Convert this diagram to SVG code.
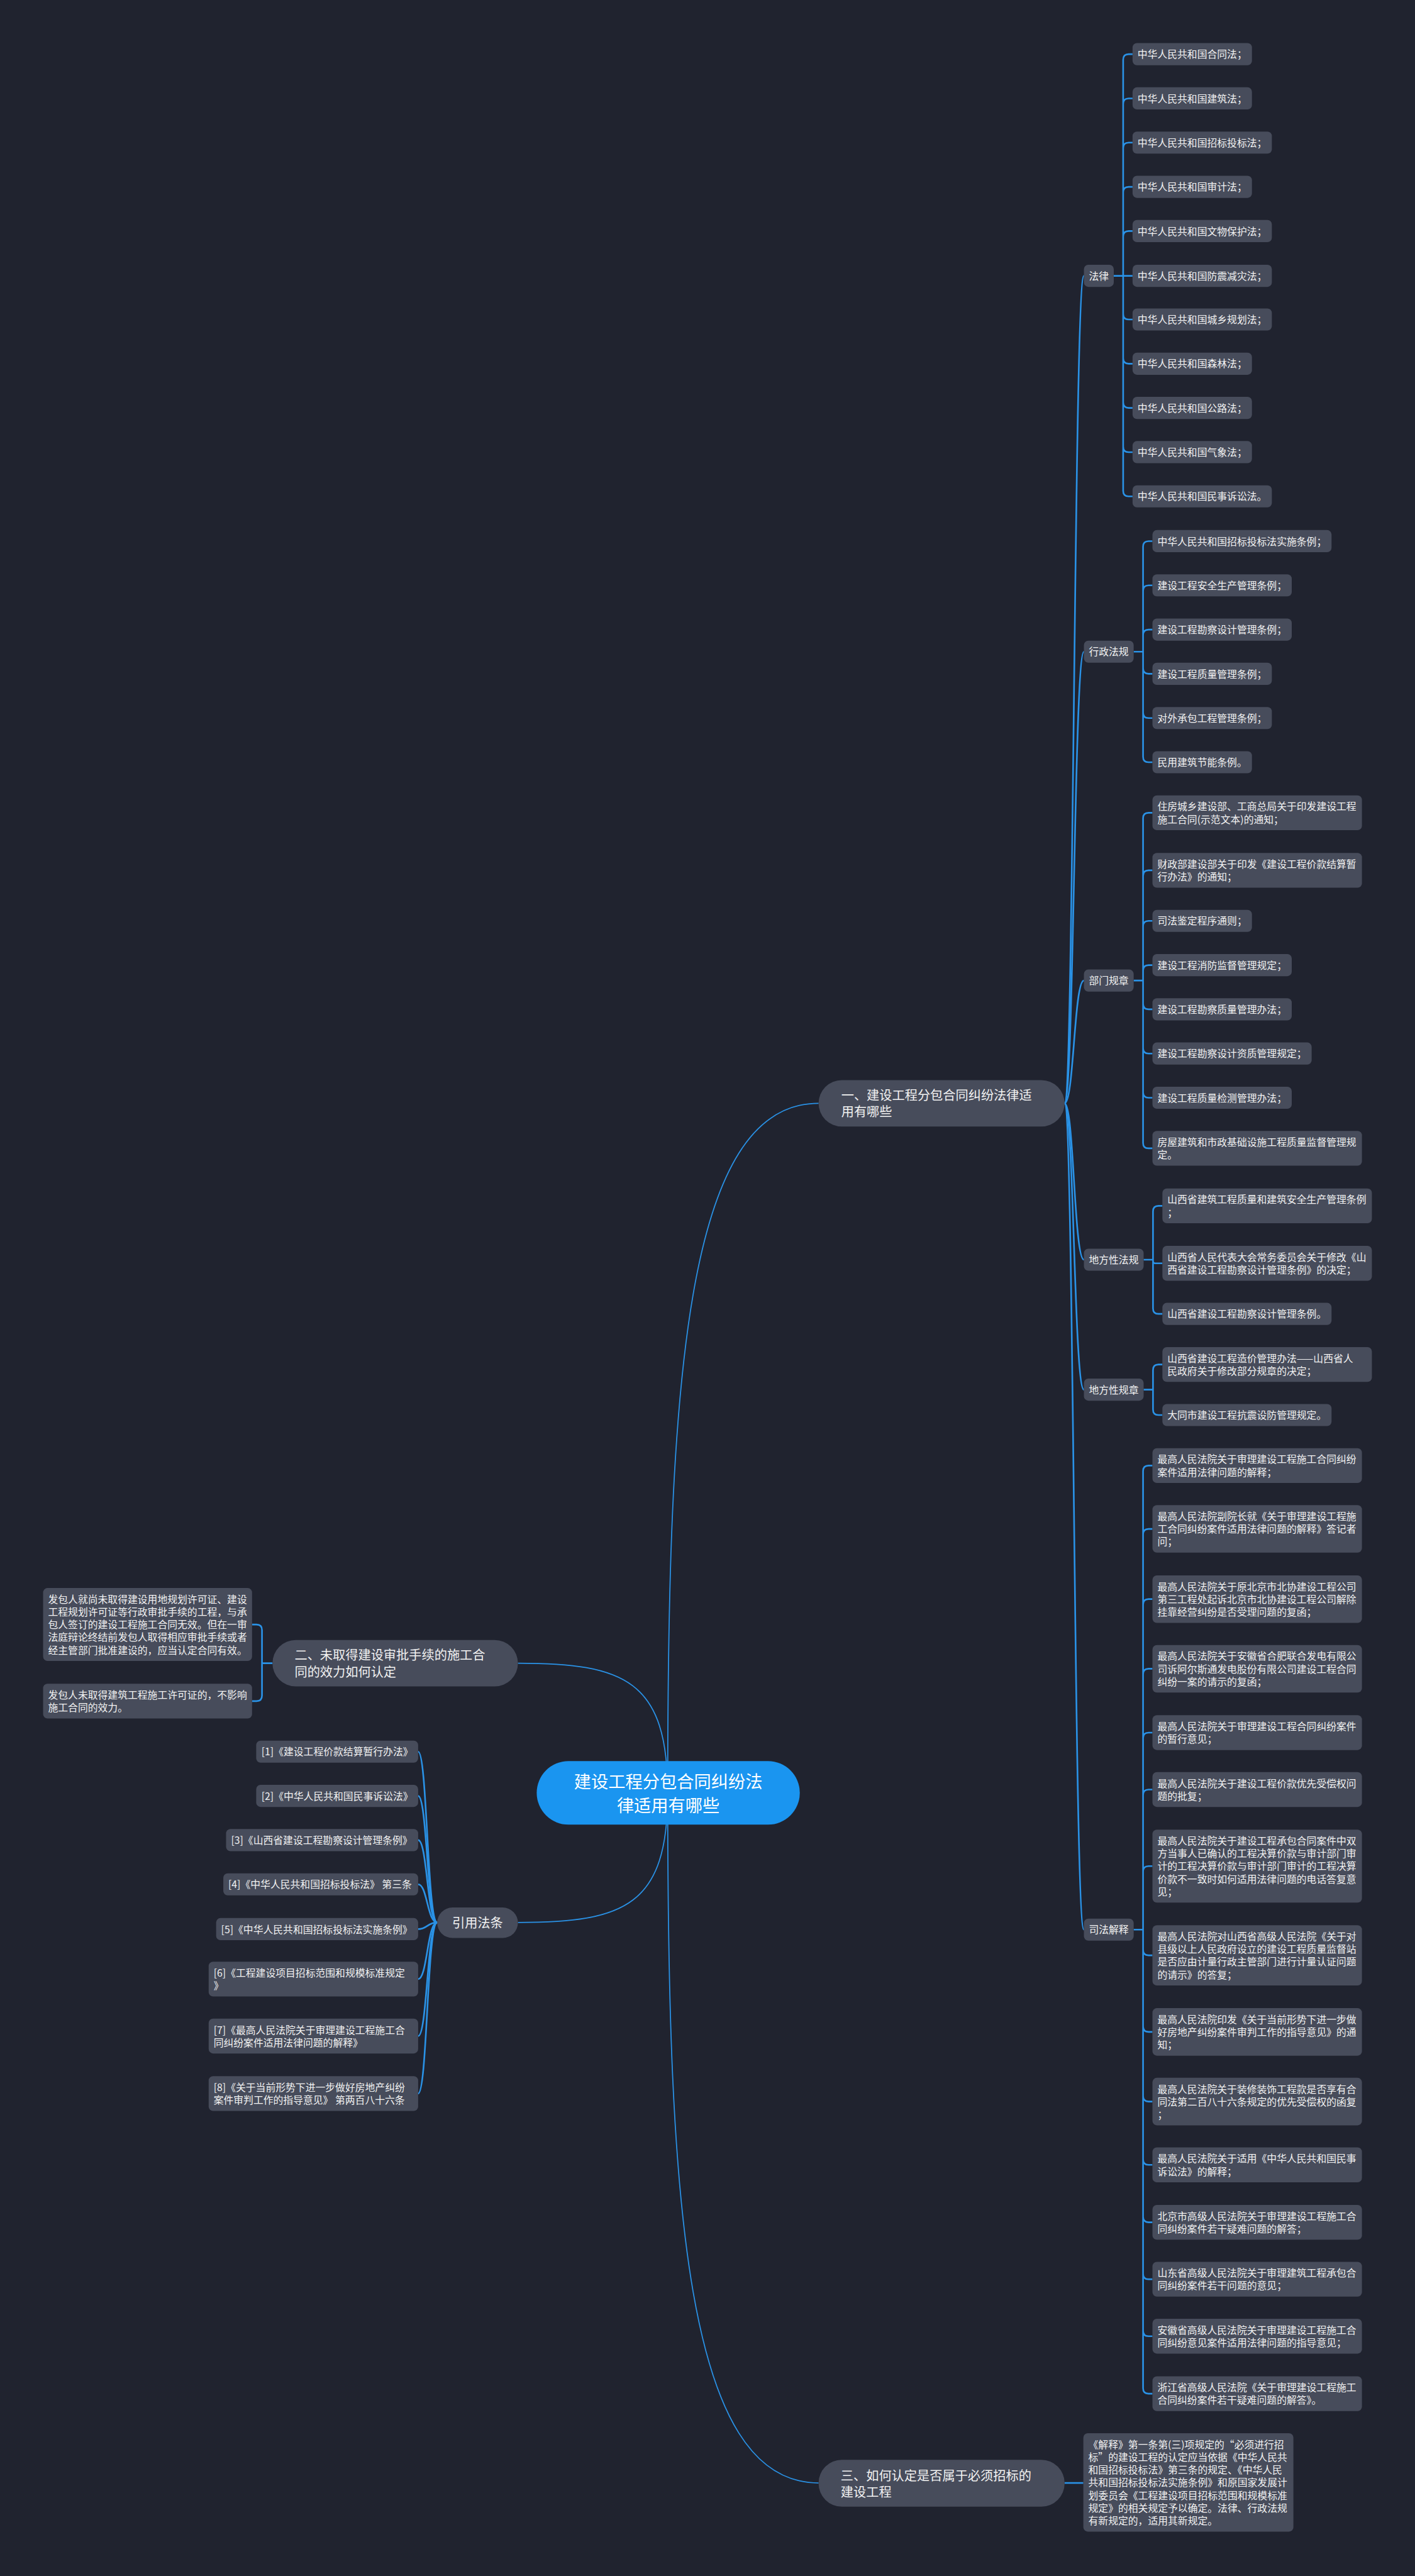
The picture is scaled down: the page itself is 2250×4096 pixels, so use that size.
<svg xmlns="http://www.w3.org/2000/svg" width="2250" height="4096" viewBox="0 0 2250 4096">
<style>
.n{fill:#474c5b}
.t{fill:#f2f2f2;font-family:"Noto Sans CJK SC","Noto Sans",sans-serif;font-size:18px}
.t1{fill:#f2f2f2;font-family:"Noto Sans CJK SC","Noto Sans",sans-serif;font-size:23px}
.tr{fill:#ffffff;font-family:"Noto Sans CJK SC","Noto Sans",sans-serif;font-size:31px;text-anchor:middle}
.c{fill:none;stroke:#2a92e6;stroke-width:3}
.cr{fill:none;stroke:#2a92e6;stroke-width:2}
</style>
<rect x="0" y="0" width="2250" height="4096" fill="#20232f"/>
<g transform="scale(0.87891)">
<g id="connectors">
<path class="cr" d="M1208 3244C1208 2500 1240 1996 1481 1996"/>
<path class="cr" d="M1208 3244C1208 3988 1240 4492 1481 4492"/>
<path class="cr" d="M1208 3244C1208 3040 1130 3009 937 3009"/>
<path class="cr" d="M1208 3244C1208 3448 1130 3478 937 3478"/>
<path class="c" d="M1926 1996C1943 1996 1943 499 1961 499"/>
<path class="c" d="M1926 1996C1943 1996 1943 1179 1961 1179"/>
<path class="c" d="M1926 1996C1943 1996 1943 1774 1961 1774"/>
<path class="c" d="M1926 1996C1943 1996 1943 2279 1961 2279"/>
<path class="c" d="M1926 1996C1943 1996 1943 2514 1961 2514"/>
<path class="c" d="M1926 1996C1943 1996 1943 3491 1961 3491"/>
<path class="c" d="M2015 499H2032M2032 499V108Q2032 98 2042 98H2049M2032 499V888Q2032 898 2042 898H2049M2032 188Q2032 178 2042 178H2049M2032 268Q2032 258 2042 258H2049M2032 348Q2032 338 2042 338H2049M2032 428Q2032 418 2042 418H2049M2032 499H2049M2032 568Q2032 578 2042 578H2049M2032 648Q2032 658 2042 658H2049M2032 728Q2032 738 2042 738H2049M2032 808Q2032 818 2042 818H2049"/>
<path class="c" d="M2051 1179H2068M2068 1179V989Q2068 979 2078 979H2085M2068 1179V1369Q2068 1379 2078 1379H2085M2068 1069Q2068 1059 2078 1059H2085M2068 1149Q2068 1139 2078 1139H2085M2068 1209Q2068 1219 2078 1219H2085M2068 1289Q2068 1299 2078 1299H2085"/>
<path class="c" d="M2051 1774H2068M2068 1774V1480.5Q2068 1470.5 2078 1470.5H2085M2068 1774V2067.5Q2068 2077.5 2078 2077.5H2085M2068 1584.5Q2068 1574.5 2078 1574.5H2085M2068 1676Q2068 1666 2078 1666H2085M2068 1756Q2068 1746 2078 1746H2085M2068 1816Q2068 1826 2078 1826H2085M2068 1896Q2068 1906 2078 1906H2085M2068 1976Q2068 1986 2078 1986H2085"/>
<path class="c" d="M2069 2279H2086M2086 2279V2191.5Q2086 2181.5 2096 2181.5H2103M2086 2279V2367Q2086 2377 2096 2377H2103M2086 2279V2281.5Q2086 2285.5 2090 2285.5H2103"/>
<path class="c" d="M2069 2514H2086M2086 2514V2478.5Q2086 2468.5 2096 2468.5H2103M2086 2514V2550Q2086 2560 2096 2560H2103"/>
<path class="c" d="M2051 3491H2068M2068 3491V2661.5Q2068 2651.5 2078 2651.5H2085M2068 3491V4320.5Q2068 4330.5 2078 4330.5H2085M2068 2776Q2068 2766 2078 2766H2085M2068 2903Q2068 2893 2078 2893H2085M2068 3029Q2068 3019 2078 3019H2085M2068 3144.5Q2068 3134.5 2078 3134.5H2085M2068 3247.5Q2068 3237.5 2078 3237.5H2085M2068 3386Q2068 3376 2078 3376H2085M2068 3527.5Q2068 3537.5 2078 3537.5H2085M2068 3666Q2068 3676 2078 3676H2085M2068 3792Q2068 3802 2078 3802H2085M2068 3906.5Q2068 3916.5 2078 3916.5H2085M2068 4010.5Q2068 4020.5 2078 4020.5H2085M2068 4113.5Q2068 4123.5 2078 4123.5H2085M2068 4216.5Q2068 4226.5 2078 4226.5H2085"/>
<path class="c" d="M1926 4492H1960"/>
<path class="c" d="M493 3009H474V2949Q474 2939 464 2939H456M474 3009V3067.5Q474 3077.5 464 3077.5H456"/>
<path class="c" d="M791 3478C773 3478 773 3169 756.5 3169"/>
<path class="c" d="M791 3478C773 3478 773 3249 756.5 3249"/>
<path class="c" d="M791 3478C773 3478 773 3329 756.5 3329"/>
<path class="c" d="M791 3478C773 3478 773 3409 756.5 3409"/>
<path class="c" d="M791 3478C773 3478 773 3490 756.5 3490"/>
<path class="c" d="M791 3478C773 3478 773 3580.5 756.5 3580.5"/>
<path class="c" d="M791 3478C773 3478 773 3683.5 756.5 3683.5"/>
<path class="c" d="M791 3478C773 3478 773 3787.5 756.5 3787.5"/>
</g>

<g id="root"><rect x="971" y="3186" width="476" height="115" rx="57.5" fill="#1a95f0"/><text class="tr"><tspan x="1209" y="3235">建设工程分包合同纠纷法</tspan><tspan x="1209" y="3278">律适用有哪些</tspan></text></g>

<g id="b1"><rect class="n" x="1481" y="1954" width="445" height="84" rx="42"/><text class="t1"><tspan x="1522" y="1990">一、建设工程分包合同纠纷法律适</tspan><tspan x="1522" y="2020">用有哪些</tspan></text></g>
<g id="b2"><rect class="n" x="493" y="2967" width="444" height="84" rx="42"/><text class="t1"><tspan x="533" y="3003">二、未取得建设审批手续的施工合</tspan><tspan x="533" y="3033">同的效力如何认定</tspan></text></g>
<g id="b3"><rect class="n" x="1481" y="4450" width="445" height="85" rx="42"/><text class="t1"><tspan x="1521" y="4487">三、如何认定是否属于必须招标的</tspan><tspan x="1521" y="4517">建设工程</tspan></text></g>
<g id="b4"><rect class="n" x="791" y="3451" width="146" height="55" rx="27.5"/><text class="t1" x="818" y="3487">引用法条</text></g>

<g id="law"><rect class="n" x="1961" y="479" width="54" height="40" rx="8"/><text class="t" x="1970" y="506">法律</text></g>
<g id="law1"><rect class="n" x="2049" y="78" width="216" height="40" rx="8"/><text class="t" x="2058" y="105">中华人民共和国合同法；</text></g>
<g id="law2"><rect class="n" x="2049" y="158" width="216" height="40" rx="8"/><text class="t" x="2058" y="185">中华人民共和国建筑法；</text></g>
<g id="law3"><rect class="n" x="2049" y="238" width="252" height="40" rx="8"/><text class="t" x="2058" y="265">中华人民共和国招标投标法；</text></g>
<g id="law4"><rect class="n" x="2049" y="318" width="216" height="40" rx="8"/><text class="t" x="2058" y="345">中华人民共和国审计法；</text></g>
<g id="law5"><rect class="n" x="2049" y="398" width="252" height="40" rx="8"/><text class="t" x="2058" y="425">中华人民共和国文物保护法；</text></g>
<g id="law6"><rect class="n" x="2049" y="479" width="252" height="40" rx="8"/><text class="t" x="2058" y="506">中华人民共和国防震减灾法；</text></g>
<g id="law7"><rect class="n" x="2049" y="558" width="252" height="40" rx="8"/><text class="t" x="2058" y="585">中华人民共和国城乡规划法；</text></g>
<g id="law8"><rect class="n" x="2049" y="638" width="216" height="40" rx="8"/><text class="t" x="2058" y="665">中华人民共和国森林法；</text></g>
<g id="law9"><rect class="n" x="2049" y="718" width="216" height="40" rx="8"/><text class="t" x="2058" y="745">中华人民共和国公路法；</text></g>
<g id="law10"><rect class="n" x="2049" y="798" width="216" height="40" rx="8"/><text class="t" x="2058" y="825">中华人民共和国气象法；</text></g>
<g id="law11"><rect class="n" x="2049" y="878" width="252" height="40" rx="8"/><text class="t" x="2058" y="905">中华人民共和国民事诉讼法。</text></g>

<g id="adm"><rect class="n" x="1961" y="1159" width="90" height="40" rx="8"/><text class="t" x="1970" y="1186">行政法规</text></g>
<g id="adm1"><rect class="n" x="2085" y="959" width="324" height="40" rx="8"/><text class="t" x="2094" y="986">中华人民共和国招标投标法实施条例；</text></g>
<g id="adm2"><rect class="n" x="2085" y="1039" width="252" height="40" rx="8"/><text class="t" x="2094" y="1066">建设工程安全生产管理条例；</text></g>
<g id="adm3"><rect class="n" x="2085" y="1119" width="252" height="40" rx="8"/><text class="t" x="2094" y="1146">建设工程勘察设计管理条例；</text></g>
<g id="adm4"><rect class="n" x="2085" y="1199" width="216" height="40" rx="8"/><text class="t" x="2094" y="1226">建设工程质量管理条例；</text></g>
<g id="adm5"><rect class="n" x="2085" y="1279" width="216" height="40" rx="8"/><text class="t" x="2094" y="1306">对外承包工程管理条例；</text></g>
<g id="adm6"><rect class="n" x="2085" y="1359" width="180" height="40" rx="8"/><text class="t" x="2094" y="1386">民用建筑节能条例。</text></g>

<g id="dep"><rect class="n" x="1961" y="1754" width="90" height="40" rx="8"/><text class="t" x="1970" y="1781">部门规章</text></g>
<g id="dep1"><rect class="n" x="2085" y="1439" width="379" height="63" rx="8"/><text class="t"><tspan x="2094" y="1466">住房城乡建设部、工商总局关于印发建设工程</tspan><tspan x="2094" y="1489">施工合同(示范文本)的通知；</tspan></text></g>
<g id="dep2"><rect class="n" x="2085" y="1543" width="379" height="63" rx="8"/><text class="t"><tspan x="2094" y="1570">财政部建设部关于印发《建设工程价款结算暂</tspan><tspan x="2094" y="1593">行办法》的通知；</tspan></text></g>
<g id="dep3"><rect class="n" x="2085" y="1646" width="180" height="40" rx="8"/><text class="t" x="2094" y="1673">司法鉴定程序通则；</text></g>
<g id="dep4"><rect class="n" x="2085" y="1726" width="252" height="40" rx="8"/><text class="t" x="2094" y="1753">建设工程消防监督管理规定；</text></g>
<g id="dep5"><rect class="n" x="2085" y="1806" width="252" height="40" rx="8"/><text class="t" x="2094" y="1833">建设工程勘察质量管理办法；</text></g>
<g id="dep6"><rect class="n" x="2085" y="1886" width="288" height="40" rx="8"/><text class="t" x="2094" y="1913">建设工程勘察设计资质管理规定；</text></g>
<g id="dep7"><rect class="n" x="2085" y="1966" width="252" height="40" rx="8"/><text class="t" x="2094" y="1993">建设工程质量检测管理办法；</text></g>
<g id="dep8"><rect class="n" x="2085" y="2046" width="379" height="63" rx="8"/><text class="t"><tspan x="2094" y="2073">房屋建筑和市政基础设施工程质量监督管理规</tspan><tspan x="2094" y="2096">定。</tspan></text></g>

<g id="loc"><rect class="n" x="1961" y="2259" width="108" height="40" rx="8"/><text class="t" x="1970" y="2286">地方性法规</text></g>
<g id="loc1"><rect class="n" x="2103" y="2150" width="379" height="63" rx="8"/><text class="t"><tspan x="2112" y="2177">山西省建筑工程质量和建筑安全生产管理条例</tspan><tspan x="2112" y="2200">；</tspan></text></g>
<g id="loc2"><rect class="n" x="2103" y="2254" width="379" height="63" rx="8"/><text class="t"><tspan x="2112" y="2281">山西省人民代表大会常务委员会关于修改《山</tspan><tspan x="2112" y="2304">西省建设工程勘察设计管理条例》的决定；</tspan></text></g>
<g id="loc3"><rect class="n" x="2103" y="2357" width="306" height="40" rx="8"/><text class="t" x="2112" y="2384">山西省建设工程勘察设计管理条例。</text></g>
<g id="locr"><rect class="n" x="1961" y="2494" width="108" height="40" rx="8"/><text class="t" x="1970" y="2521">地方性规章</text></g>
<g id="locr1"><rect class="n" x="2103" y="2437" width="379" height="63" rx="8"/><text class="t"><tspan x="2112" y="2464">山西省建设工程造价管理办法——山西省人</tspan><tspan x="2112" y="2487">民政府关于修改部分规章的决定；</tspan></text></g>
<g id="locr2"><rect class="n" x="2103" y="2540" width="306" height="40" rx="8"/><text class="t" x="2112" y="2567">大同市建设工程抗震设防管理规定。</text></g>

<g id="jud"><rect class="n" x="1961" y="3471" width="90" height="40" rx="8"/><text class="t" x="1970" y="3498">司法解释</text></g>
<g id="jud1"><rect class="n" x="2085" y="2620" width="379" height="63" rx="8"/><text class="t"><tspan x="2094" y="2647">最高人民法院关于审理建设工程施工合同纠纷</tspan><tspan x="2094" y="2670">案件适用法律问题的解释；</tspan></text></g>
<g id="jud2"><rect class="n" x="2085" y="2723" width="379" height="86" rx="8"/><text class="t"><tspan x="2094" y="2750">最高人民法院副院长就《关于审理建设工程施</tspan><tspan x="2094" y="2773">工合同纠纷案件适用法律问题的解释》答记者</tspan><tspan x="2094" y="2796">问；</tspan></text></g>
<g id="jud3"><rect class="n" x="2085" y="2850" width="379" height="86" rx="8"/><text class="t"><tspan x="2094" y="2877">最高人民法院关于原北京市北协建设工程公司</tspan><tspan x="2094" y="2900">第三工程处起诉北京市北协建设工程公司解除</tspan><tspan x="2094" y="2923">挂靠经营纠纷是否受理问题的复函；</tspan></text></g>
<g id="jud4"><rect class="n" x="2085" y="2976" width="379" height="86" rx="8"/><text class="t"><tspan x="2094" y="3003">最高人民法院关于安徽省合肥联合发电有限公</tspan><tspan x="2094" y="3026">司诉阿尔斯通发电股份有限公司建设工程合同</tspan><tspan x="2094" y="3049">纠纷一案的请示的复函；</tspan></text></g>
<g id="jud5"><rect class="n" x="2085" y="3103" width="379" height="63" rx="8"/><text class="t"><tspan x="2094" y="3130">最高人民法院关于审理建设工程合同纠纷案件</tspan><tspan x="2094" y="3153">的暂行意见；</tspan></text></g>
<g id="jud6"><rect class="n" x="2085" y="3206" width="379" height="63" rx="8"/><text class="t"><tspan x="2094" y="3233">最高人民法院关于建设工程价款优先受偿权问</tspan><tspan x="2094" y="3256">题的批复；</tspan></text></g>
<g id="jud7"><rect class="n" x="2085" y="3310" width="379" height="132" rx="8"/><text class="t"><tspan x="2094" y="3337">最高人民法院关于建设工程承包合同案件中双</tspan><tspan x="2094" y="3360">方当事人已确认的工程决算价款与审计部门审</tspan><tspan x="2094" y="3383">计的工程决算价款与审计部门审计的工程决算</tspan><tspan x="2094" y="3406">价款不一致时如何适用法律问题的电话答复意</tspan><tspan x="2094" y="3429">见；</tspan></text></g>
<g id="jud8"><rect class="n" x="2085" y="3483" width="379" height="109" rx="8"/><text class="t"><tspan x="2094" y="3510">最高人民法院对山西省高级人民法院《关于对</tspan><tspan x="2094" y="3533">县级以上人民政府设立的建设工程质量监督站</tspan><tspan x="2094" y="3556">是否应由计量行政主管部门进行计量认证问题</tspan><tspan x="2094" y="3579">的请示》的答复；</tspan></text></g>
<g id="jud9"><rect class="n" x="2085" y="3633" width="379" height="86" rx="8"/><text class="t"><tspan x="2094" y="3660">最高人民法院印发《关于当前形势下进一步做</tspan><tspan x="2094" y="3683">好房地产纠纷案件审判工作的指导意见》的通</tspan><tspan x="2094" y="3706">知；</tspan></text></g>
<g id="jud10"><rect class="n" x="2085" y="3759" width="379" height="86" rx="8"/><text class="t"><tspan x="2094" y="3786">最高人民法院关于装修装饰工程款是否享有合</tspan><tspan x="2094" y="3809">同法第二百八十六条规定的优先受偿权的函复</tspan><tspan x="2094" y="3832">；</tspan></text></g>
<g id="jud11"><rect class="n" x="2085" y="3885" width="379" height="63" rx="8"/><text class="t"><tspan x="2094" y="3912">最高人民法院关于适用《中华人民共和国民事</tspan><tspan x="2094" y="3935">诉讼法》的解释；</tspan></text></g>
<g id="jud12"><rect class="n" x="2085" y="3989" width="379" height="63" rx="8"/><text class="t"><tspan x="2094" y="4016">北京市高级人民法院关于审理建设工程施工合</tspan><tspan x="2094" y="4039">同纠纷案件若干疑难问题的解答；</tspan></text></g>
<g id="jud13"><rect class="n" x="2085" y="4092" width="379" height="63" rx="8"/><text class="t"><tspan x="2094" y="4119">山东省高级人民法院关于审理建筑工程承包合</tspan><tspan x="2094" y="4142">同纠纷案件若干问题的意见；</tspan></text></g>
<g id="jud14"><rect class="n" x="2085" y="4195" width="379" height="63" rx="8"/><text class="t"><tspan x="2094" y="4222">安徽省高级人民法院关于审理建设工程施工合</tspan><tspan x="2094" y="4245">同纠纷意见案件适用法律问题的指导意见；</tspan></text></g>
<g id="jud15"><rect class="n" x="2085" y="4299" width="379" height="63" rx="8"/><text class="t"><tspan x="2094" y="4326">浙江省高级人民法院《关于审理建设工程施工</tspan><tspan x="2094" y="4349">合同纠纷案件若干疑难问题的解答》。</tspan></text></g>

<g id="b3c"><rect class="n" x="1960" y="4402" width="380" height="178" rx="8"/><text class="t"><tspan x="1969" y="4429">《解释》第一条第(三)项规定的“必须进行招</tspan><tspan x="1969" y="4452">标”的建设工程的认定应当依据《中华人民共</tspan><tspan x="1969" y="4475">和国招标投标法》第三条的规定、《中华人民</tspan><tspan x="1969" y="4498">共和国招标投标法实施条例》和原国家发展计</tspan><tspan x="1969" y="4521">划委员会《工程建设项目招标范围和规模标准</tspan><tspan x="1969" y="4544">规定》的相关规定予以确定。法律、行政法规</tspan><tspan x="1969" y="4567">有新规定的，适用其新规定。</tspan></text></g>

<g id="b2c1"><rect class="n" x="78" y="2873" width="378" height="132" rx="8"/><text class="t"><tspan x="87" y="2900">发包人就尚未取得建设用地规划许可证、建设</tspan><tspan x="87" y="2923">工程规划许可证等行政审批手续的工程，与承</tspan><tspan x="87" y="2946">包人签订的建设工程施工合同无效。但在一审</tspan><tspan x="87" y="2969">法庭辩论终结前发包人取得相应审批手续或者</tspan><tspan x="87" y="2992">经主管部门批准建设的，应当认定合同有效。</tspan></text></g>
<g id="b2c2"><rect class="n" x="78" y="3046" width="378" height="63" rx="8"/><text class="t"><tspan x="87" y="3073">发包人未取得建筑工程施工许可证的，不影响</tspan><tspan x="87" y="3096">施工合同的效力。</tspan></text></g>

<g id="ref1"><rect class="n" x="463.5" y="3149" width="293" height="40" rx="8"/><text class="t" x="473" y="3176">[1]《建设工程价款结算暂行办法》</text></g>
<g id="ref2"><rect class="n" x="463.5" y="3229" width="293" height="40" rx="8"/><text class="t" x="473" y="3256">[2]《中华人民共和国民事诉讼法》</text></g>
<g id="ref3"><rect class="n" x="409" y="3309" width="347.5" height="40" rx="8"/><text class="t" x="418" y="3336">[3]《山西省建设工程勘察设计管理条例》</text></g>
<g id="ref4"><rect class="n" x="404" y="3389" width="352.5" height="40" rx="8"/><text class="t" x="413" y="3416">[4]《中华人民共和国招标投标法》 第三条</text></g>
<g id="ref5"><rect class="n" x="391" y="3470" width="365.5" height="40" rx="8"/><text class="t" x="400" y="3497">[5]《中华人民共和国招标投标法实施条例》</text></g>
<g id="ref6"><rect class="n" x="377.5" y="3549" width="379" height="63" rx="8"/><text class="t"><tspan x="386.5" y="3576">[6]《工程建设项目招标范围和规模标准规定</tspan><tspan x="386.5" y="3599">》</tspan></text></g>
<g id="ref7"><rect class="n" x="377.5" y="3652" width="379" height="63" rx="8"/><text class="t"><tspan x="386.5" y="3679">[7]《最高人民法院关于审理建设工程施工合</tspan><tspan x="386.5" y="3702">同纠纷案件适用法律问题的解释》</tspan></text></g>
<g id="ref8"><rect class="n" x="377.5" y="3756" width="379" height="63" rx="8"/><text class="t"><tspan x="386.5" y="3783">[8]《关于当前形势下进一步做好房地产纠纷</tspan><tspan x="386.5" y="3806">案件审判工作的指导意见》 第两百八十六条</tspan></text></g>
</g>
</svg>
